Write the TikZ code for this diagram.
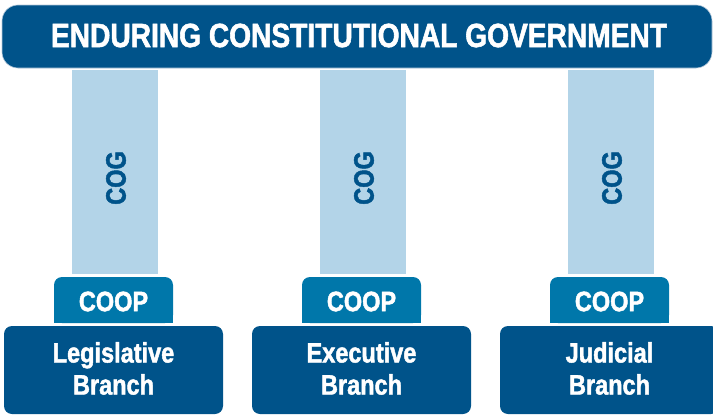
\documentclass[tikz,border=0pt]{standalone}
\usepackage{fontspec}
\newfontfamily\hb{Liberation Sans}[FakeStretch=0.84, UprightFont={* Bold}, FakeBold=1.6]
\definecolor{darkblue}{RGB}{0,83,138}
\definecolor{coopblue}{RGB}{0,119,170}
\definecolor{pillar}{RGB}{179,212,232}
\definecolor{rim}{RGB}{180,200,218}
\tikzset{
  banner/.style={fill=darkblue, draw=rim, line width=0.6pt, rounded corners=16pt, minimum width=710pt, minimum height=63pt, inner sep=0pt, text=white, font=\hb\fontsize{33.5}{36}\selectfont},
  pillarbox/.style={fill=pillar, minimum width=86pt, minimum height=204pt, inner sep=0pt},
  cogtext/.style={rotate=90, text=darkblue, font=\hb\fontsize{28}{30}\selectfont, inner sep=0pt},
  coopbox/.style={fill=coopblue, rounded corners=8pt, minimum width=119pt, minimum height=46pt, inner sep=0pt},
  cooptext/.style={text=white, font=\hb\fontsize{28}{30}\selectfont, inner sep=0pt},
  branchbox/.style={fill=darkblue, rounded corners=8pt, minimum width=219pt, minimum height=88pt, inner sep=0pt, text=white, align=center, font=\hb\fontsize{28}{32}\selectfont}
}
\begin{document}
\begin{tikzpicture}[x=1pt,y=-1pt]
\useasboundingbox (0,0) rectangle (713,415);
\clip (0,0) rectangle (713,415);
\node[banner] (top) at (357,36.5) {};
\node[text=white, font=\hb\fontsize{33.5}{36}\selectfont, inner sep=0pt] (toplab) at (359,35.5) {ENDURING CONSTITUTIONAL GOVERNMENT};
\foreach \i/\dx/\lab in {1/0/{Legislative\\Branch}, 2/248/{Executive\\Branch}, 3/496/{Judicial\\Branch}} {
  \node[pillarbox] (col\i) at ({115+\dx},172) {};
  \node[cogtext] (cog\i) at ({116+\dx},178) {COG};
  \node[coopbox] (coop\i) at ({113.5+\dx},300) {};
  \fill[coopblue] ({54+\dx},300) rectangle ({173+\dx},323);
  \node[cooptext] (cooplab\i) at ({113.5+\dx},301.5) {COOP};
  \node[branchbox] (br\i) at ({113.5+\dx},370) {};
  \node[text=white, align=center, font=\hb\fontsize{28}{32}\selectfont, inner sep=0pt] (brlab\i) at ({113.5+\dx},368.5) {\lab};
}
\end{tikzpicture}
\end{document}
